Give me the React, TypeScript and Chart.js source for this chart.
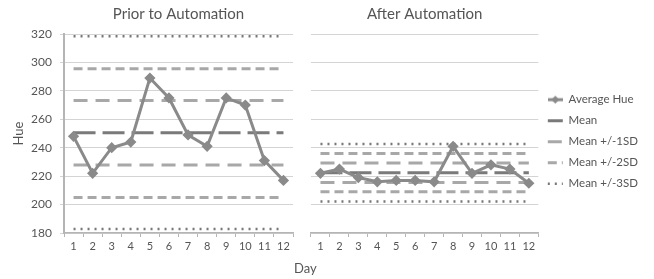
import React, { useEffect, useRef } from 'react';
import { Chart, registerables } from 'chart.js';

Chart.register(...registerables);

// ---- data ----
const days = ['1', '2', '3', '4', '5', '6', '7', '8', '9', '10', '11', '12'];
const priorHue = [248, 222, 240, 244, 289, 275, 249, 241, 275, 270, 231, 217];
const afterHue = [222, 225, 219, 216, 217, 217, 216, 241, 222, 228, 225, 215];
const seriesLabels = ['Average Hue', 'Mean', 'Mean +/-1SD', 'Mean +/-2SD', 'Mean +/-3SD'];
const priorMean = 250.5;
const priorUpper = [273.2, 295.5, 318.5]; // +1SD, +2SD, +3SD
const priorLower = [227.8, 205, 182.8]; // -1SD, -2SD, -3SD
const afterMean = 222.4;
const afterUpper = [229.3, 236, 242.6];
const afterLower = [215.6, 209, 202.2];
const yMin = 180;
const yMax = 320;
const yStep = 20;
const panelTitles = ['Prior to Automation', 'After Automation'];
const yTitle = 'Hue';
const xTitle = 'Day';

// ---- styles ----
const FONT = 'Lato, "Open Sans", sans-serif';
const TEXT = '#555555';
const GRID = '#d4d4d4';
const SERIES = '#8a8a8a';
const MEAN = '#7a7a7a';
const SD1 = '#a8a8a8';
const SD2 = '#a8a8a8';
const SD3 = '#777777';
const MARKER_W = 15;

function hueMarker(): HTMLCanvasElement {
  const c = document.createElement('canvas');
  c.width = MARKER_W;
  c.height = 10;
  const ctx = c.getContext('2d')!;
  ctx.strokeStyle = SERIES;
  ctx.lineWidth = 3;
  ctx.beginPath();
  ctx.moveTo(0, 5);
  ctx.lineTo(MARKER_W, 5);
  ctx.stroke();
  ctx.fillStyle = SERIES;
  const cx = MARKER_W / 2;
  ctx.beginPath();
  ctx.moveTo(cx, 1);
  ctx.lineTo(cx + 4, 5);
  ctx.lineTo(cx, 9);
  ctx.lineTo(cx - 4, 5);
  ctx.closePath();
  ctx.fill();
  return c;
}

function buildDatasets(hue: number[], mean: number, upper: number[], lower: number[]) {
  const flat = (v: number) => days.map(() => v);
  const styles = [
    { color: SD1, dash: [14, 8], width: 3 },
    { color: SD2, dash: [9, 5], width: 3 },
    { color: SD3, dash: [2, 5], width: 2.5 },
  ];
  const ds: any[] = [
    {
      label: seriesLabels[0],
      data: hue,
      borderColor: SERIES,
      backgroundColor: SERIES,
      borderWidth: 3,
      pointStyle: 'rectRot',
      pointRadius: 3.5,
      pointBackgroundColor: SERIES,
      pointBorderColor: SERIES,
      order: 0,
    },
    {
      label: seriesLabels[1],
      data: flat(mean),
      borderColor: MEAN,
      backgroundColor: MEAN,
      borderWidth: 3,
      borderDash: [22, 7],
      pointRadius: 0,
      order: 1,
    },
  ];
  styles.forEach((s, i) => {
    ds.push({
      label: seriesLabels[i + 2],
      data: flat(upper[i]),
      borderColor: s.color,
      backgroundColor: s.color,
      borderWidth: s.width,
      borderDash: s.dash,
      pointRadius: 0,
      order: 2,
    });
  });
  styles.forEach((s, i) => {
    ds.push({
      label: seriesLabels[i + 2],
      data: flat(lower[i]),
      borderColor: s.color,
      backgroundColor: s.color,
      borderWidth: s.width,
      borderDash: s.dash,
      pointRadius: 0,
      order: 2,
      hideInLegend: true,
    });
  });
  return ds;
}

function makeOptions(isLeft: boolean, title: string): any {
  return {
    responsive: false,
    animation: false,
    layout: {
      padding: isLeft ? { left: 0, right: 7, top: 0, bottom: 0 } : { left: 11, right: 6, top: 0, bottom: 0 },
    },
    plugins: {
      title: {
        display: true,
        fullSize: false,
        text: title,
        color: TEXT,
        font: { family: FONT, size: 15, weight: 'normal' },
        padding: { top: 5, bottom: 11 },
      },
      tooltip: { enabled: false },
      legend: isLeft
        ? { display: false }
        : {
            display: true,
            position: 'right',
            align: 'start',
            maxWidth: 140,
            title: {
              display: true,
              text: ' ',
              font: { family: FONT, size: 12 },
              padding: { top: 70, bottom: 0 },
            },
            labels: {
              usePointStyle: true,
              pointStyleWidth: MARKER_W,
              padding: 9.5,
              color: TEXT,
              font: { family: FONT, size: 11.5 },
              filter: (item: any, data: any) => !data.datasets[item.datasetIndex].hideInLegend,
              generateLabels: (chart: any) => {
                const items = Chart.defaults.plugins.legend.labels.generateLabels(chart);
                return items.map((it: any, idx: number) => {
                  const ds = chart.data.datasets[it.datasetIndex];
                  if (idx === 0) {
                    return { ...it, pointStyle: hueMarker(), lineWidth: 0 };
                  }
                  return {
                    ...it,
                    pointStyle: 'line',
                    lineWidth: ds.borderWidth,
                    lineDash: it.datasetIndex === 1 ? [] : ds.borderDash,
                    strokeStyle: ds.borderColor,
                  };
                });
              },
            },
          },
    },
    scales: {
      x: {
        type: 'category',
        offset: true,
        grid: {
          display: true,
          offset: true,
          drawOnChartArea: false,
          drawTicks: true,
          tickLength: 4,
          color: '#b5b5b5',
        },
        border: { display: true, color: '#b5b5b5', width: 1.5 },
        ticks: { color: TEXT, font: { family: FONT, size: 11 }, padding: 3, maxRotation: 0, autoSkip: false },
        afterFit: (scale: any) => {
          scale.height = 46;
        },
      },
      y: {
        min: yMin,
        max: yMax,
        grid: {
          color: GRID,
          lineWidth: 1,
          drawTicks: isLeft,
          tickLength: 4,
        },
        border: { display: isLeft, color: '#b5b5b5', width: 2 },
        ticks: {
          display: isLeft,
          stepSize: yStep,
          color: TEXT,
          font: { family: FONT, size: 12 },
          padding: 8,
        },
        title: isLeft
          ? { display: true, text: yTitle, color: TEXT, font: { family: FONT, size: 13 }, padding: { top: 11, bottom: 0 } }
          : { display: false },
        afterFit: (scale: any) => {
          scale.width = isLeft ? 64 : 0;
        },
      },
    },
  };
}

function Panel(props: { isLeft: boolean; width: number; left: number }) {
  const ref = useRef<HTMLCanvasElement | null>(null);
  useEffect(() => {
    const canvas = ref.current!;
    const datasets = props.isLeft
      ? buildDatasets(priorHue, priorMean, priorUpper, priorLower)
      : buildDatasets(afterHue, afterMean, afterUpper, afterLower);
    const chart = new Chart(canvas, {
      type: 'line',
      data: { labels: days, datasets },
      options: makeOptions(props.isLeft, props.isLeft ? panelTitles[0] : panelTitles[1]),
    });
    return () => chart.destroy();
  }, []);
  return (
    <canvas
      ref={ref}
      width={props.width}
      height={279}
      style={{ position: 'absolute', left: props.left, top: 0, width: props.width, height: 279 }}
    />
  );
}

export default function App() {
  return (
    <div style={{ position: 'fixed', left: 0, top: 0, width: 654, height: 279, background: '#ffffff', overflow: 'hidden' }}>
      <Panel isLeft={true} width={300} left={0} />
      <Panel isLeft={false} width={354} left={300} />
      <div
        style={{
          position: 'absolute',
          left: 294,
          top: 260,
          fontFamily: FONT,
          fontSize: 13,
          color: TEXT,
          lineHeight: '16px',
        }}
      >
        {xTitle}
      </div>
    </div>
  );
}
